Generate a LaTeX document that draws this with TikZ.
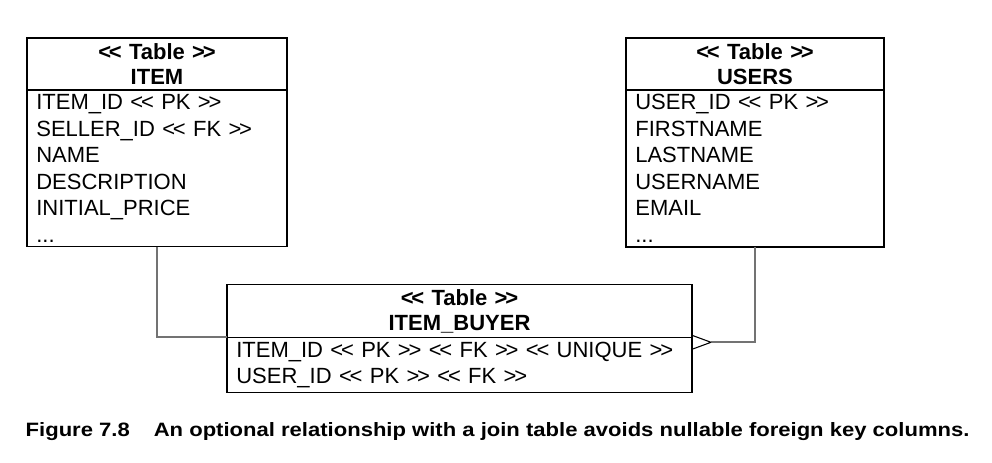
\documentclass[tikz,border=0pt]{standalone}
\usepackage{fontspec}
\setmainfont{Liberation Sans}[Ligatures=TeXOff]
\newfontfamily\capfont[FakeStretch=1.14]{Liberation Sans}
\usetikzlibrary{positioning}
\newcommand\stopen{<\kern-0.1em<}
\newcommand\stclose{>\kern-0.1em>}

\begin{document}
\begin{tikzpicture}[x=0.75pt, y=-0.75pt,
  tablehead/.style={rectangle, draw, line width=0.9pt, outer sep=0pt, inner xsep=7pt, align=center, minimum height=39pt, font=\bfseries\fontsize{16.5}{18.8}\selectfont},
  tablecols/.style={rectangle, draw, line width=0.9pt, outer sep=0pt, inner xsep=7pt, align=left, font=\fontsize{16.5}{19.9}\selectfont},
  link/.style={draw=black!55, line width=1.2pt}]
\useasboundingbox (0,0) rectangle (992,463);
% tables
\node[tablehead, text width=181pt] (item) at (157,64) {\stopen{} Table \stclose\\ITEM};
\node[tablecols, text width=181pt, minimum height=117pt, below=0pt of item] (itemcols)
  {ITEM\_ID \stopen{} PK \stclose\\SELLER\_ID \stopen{} FK \stclose\\NAME\\DESCRIPTION\\INITIAL\_PRICE\\...};
\node[tablehead, text width=179.5pt] (users) at (755,64) {\stopen{} Table \stclose\\USERS};
\node[tablecols, text width=179.5pt, minimum height=117pt, below=0pt of users] (userscols)
  {USER\_ID \stopen{} PK \stclose\\FIRSTNAME\\LASTNAME\\USERNAME\\EMAIL\\...};
\node[tablehead, text width=334.75pt] (buyer) at (459.5,311) {\stopen{} Table \stclose\\ITEM\_BUYER};
\node[tablecols, text width=334.75pt, minimum height=39.75pt, below=0pt of buyer] (buyercols)
  {ITEM\_ID \stopen{} PK \stclose{} \stopen{} FK \stclose{} \stopen{} UNIQUE \stclose\\USER\_ID \stopen{} PK \stclose{} \stopen{} FK \stclose};
% connectors
\coordinate[below right=3.75pt and 14.25pt of buyercols.north east] (foot);
\draw[link] (itemcols.south) |- (buyer.south west);
\draw[link] (userscols.south) |- (foot);
\draw[line width=0.8pt] (foot) -- ++(-14.25pt,5.25pt) (foot) -- ++(-14.25pt,-5.25pt);
% caption
\node[anchor=west, font=\capfont\bfseries\fontsize{14.5}{16}\selectfont] (caption) at (21,432)
  {Figure 7.8\hspace{18pt}An optional relationship with a join table avoids nullable foreign key columns.};
\end{tikzpicture}
\end{document}
